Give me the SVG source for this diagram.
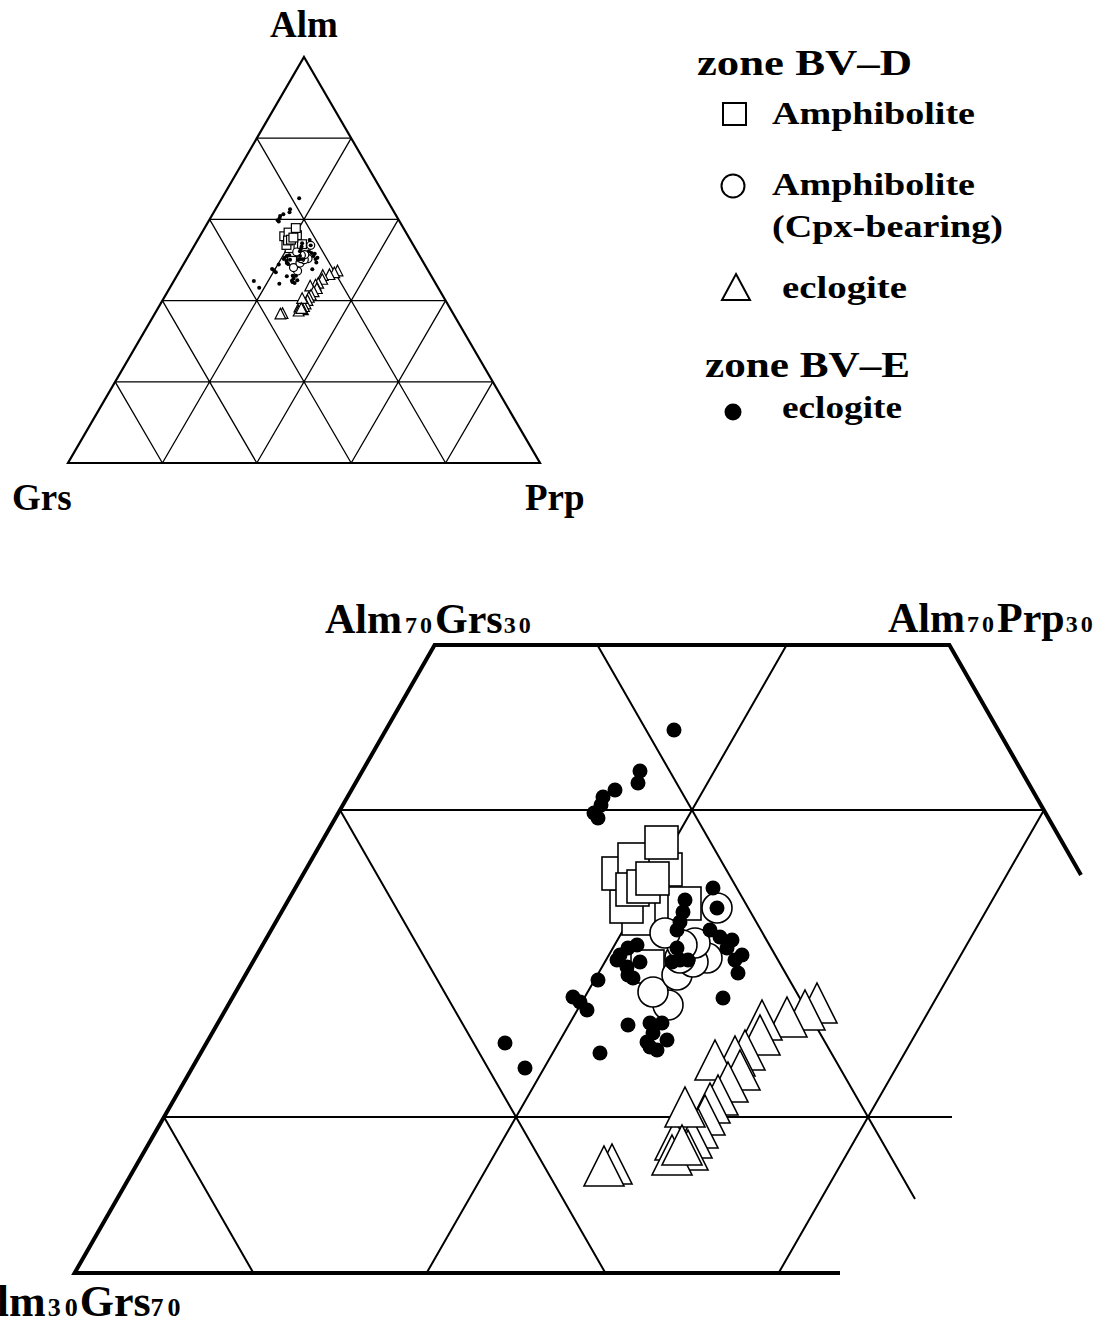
<svg xmlns="http://www.w3.org/2000/svg" xmlns:xlink="http://www.w3.org/1999/xlink" width="1115" height="1324" viewBox="0 0 1115 1324">
<style>
.lbl{font-family:"Liberation Serif","Times New Roman",serif;font-weight:bold;fill:#000}
.sub{font-size:24px;letter-spacing:3px}
.edge{fill:none;stroke:#000;stroke-width:4;stroke-linejoin:miter}
.grid{fill:none;stroke:#000;stroke-width:2}
.tedge{fill:none;stroke:#000;stroke-width:2.2}
.tgrid{fill:none;stroke:#000;stroke-width:1.3}
.sq{fill:#fff;stroke:#000}
.ci{fill:#fff;stroke:#000}
.tr{fill:#fff;stroke:#000}
.dot{fill:#000;stroke:none}
</style>
<defs>
<rect id="S" width="33" height="33"/>
<path id="T" d="M0,0 L20,40 L-20,40 Z"/>
</defs>
<rect width="1115" height="1324" fill="#fff"/>

<!-- small ternary -->
<g id="small-ternary">
<path class="tedge" d="M304,57 L540,463 L68,463 Z"/>
<path class="tgrid" d="M115.2,381.8H492.8M162.4,300.6H445.6M209.6,219.4H398.4M256.8,138.2H351.2
M162.4,463L351.2,138.2M256.8,463L398.4,219.4M351.2,463L445.6,300.6M445.6,463L492.8,381.8
M162.4,463L115.2,381.8M256.8,463L162.4,300.6M351.2,463L209.6,219.4M445.6,463L256.8,138.2"/>
<use xlink:href="#data" href="#data" stroke-width="4.5" transform="translate(118.4,5.2) scale(0.2682,0.2645)"/>
</g>
<text class="lbl" x="304" y="37" font-size="37" text-anchor="middle">Alm</text>
<text class="lbl" x="12" y="510" font-size="37">Grs</text>
<text class="lbl" x="525" y="510" font-size="37">Prp</text>

<!-- legend -->
<g id="legend">
<text class="lbl" x="697" y="75" font-size="36" textLength="215" lengthAdjust="spacingAndGlyphs">zone BV–D</text>
<rect x="723" y="103" width="23" height="22" fill="#fff" stroke="#000" stroke-width="2"/>
<text class="lbl" x="772" y="124" font-size="32" textLength="203" lengthAdjust="spacingAndGlyphs">Amphibolite</text>
<circle cx="733" cy="186" r="11.5" fill="#fff" stroke="#000" stroke-width="2"/>
<text class="lbl" x="772" y="195" font-size="32" textLength="203" lengthAdjust="spacingAndGlyphs">Amphibolite</text>
<text class="lbl" x="772" y="237" font-size="32" textLength="231" lengthAdjust="spacingAndGlyphs">(Cpx-bearing)</text>
<path d="M736,274 L750,300 L722,300 Z" fill="#fff" stroke="#000" stroke-width="2"/>
<text class="lbl" x="782" y="298" font-size="32" textLength="125" lengthAdjust="spacingAndGlyphs">eclogite</text>
<text class="lbl" x="705" y="377" font-size="36" textLength="205" lengthAdjust="spacingAndGlyphs">zone BV–E</text>
<circle cx="733" cy="412" r="8.5" fill="#000"/>
<text class="lbl" x="782" y="418" font-size="32" textLength="120" lengthAdjust="spacingAndGlyphs">eclogite</text>
</g>

<!-- large plot -->
<g id="large-grid">
<path class="grid" d="M340,810H1044M164,1117H952M597.4,645L915,1199M786.6,645L426.6,1273M340,810L605.4,1273M164,1117L253.4,1273M778.6,1273L1044,810"/>
<path class="edge" d="M1081,875L949.4,645H434.6L74.6,1273H840"/>
</g>

<g id="large-data" stroke-width="1.6">
<g id="data">
<g id="amphibolite-squares">
<use href="#S" class="sq" x="631" y="950"/>
<use href="#S" class="sq" x="668" y="887"/>
<use href="#S" class="sq" x="622" y="902"/>
<use href="#S" class="sq" x="610" y="890"/>
<use href="#S" class="sq" x="602" y="857"/>
<use href="#S" class="sq" x="618" y="843"/>
<use href="#S" class="sq" x="616" y="873"/>
<use href="#S" class="sq" x="649" y="853"/>
<use href="#S" class="sq" x="627" y="870"/>
<use href="#S" class="sq" x="636" y="862"/>
<use href="#S" class="sq" x="645" y="826"/>
</g>
<g id="cpx-circles">
<circle class="ci" cx="717" cy="908" r="15"/>
<circle class="ci" cx="668" cy="1005" r="15"/>
<circle class="ci" cx="653" cy="992" r="15"/>
<circle class="ci" cx="677" cy="975" r="15"/>
<circle class="ci" cx="707" cy="958" r="15"/>
<circle class="ci" cx="693" cy="962" r="15"/>
<circle class="ci" cx="680" cy="958" r="15"/>
<circle class="ci" cx="695" cy="943" r="15"/>
<circle class="ci" cx="682" cy="945" r="15"/>
<circle class="ci" cx="665" cy="933" r="15"/>
</g>
<g id="bve-dots">
<circle class="dot" cx="674" cy="730" r="7.5"/>
<circle class="dot" cx="640" cy="771" r="7.5"/>
<circle class="dot" cx="638" cy="783" r="7.5"/>
<circle class="dot" cx="615" cy="790" r="7.5"/>
<circle class="dot" cx="603" cy="797" r="7.5"/>
<circle class="dot" cx="601" cy="805" r="7.5"/>
<circle class="dot" cx="594" cy="813" r="7.5"/>
<circle class="dot" cx="598" cy="818" r="7.5"/>
<circle class="dot" cx="713" cy="888" r="7.5"/>
<circle class="dot" cx="717" cy="908" r="7.5"/>
<circle class="dot" cx="685" cy="900" r="7.5"/>
<circle class="dot" cx="683" cy="912" r="7.5"/>
<circle class="dot" cx="680" cy="922" r="7.5"/>
<circle class="dot" cx="677" cy="930" r="7.5"/>
<circle class="dot" cx="710" cy="930" r="7.5"/>
<circle class="dot" cx="720" cy="937" r="7.5"/>
<circle class="dot" cx="732" cy="940" r="7.5"/>
<circle class="dot" cx="727" cy="948" r="7.5"/>
<circle class="dot" cx="742" cy="955" r="7.5"/>
<circle class="dot" cx="735" cy="960" r="7.5"/>
<circle class="dot" cx="738" cy="973" r="7.5"/>
<circle class="dot" cx="677" cy="948" r="7.5"/>
<circle class="dot" cx="680" cy="960" r="7.5"/>
<circle class="dot" cx="672" cy="962" r="7.5"/>
<circle class="dot" cx="688" cy="960" r="7.5"/>
<circle class="dot" cx="637" cy="945" r="7.5"/>
<circle class="dot" cx="628" cy="948" r="7.5"/>
<circle class="dot" cx="620" cy="955" r="7.5"/>
<circle class="dot" cx="617" cy="960" r="7.5"/>
<circle class="dot" cx="640" cy="962" r="7.5"/>
<circle class="dot" cx="627" cy="967" r="7.5"/>
<circle class="dot" cx="628" cy="975" r="7.5"/>
<circle class="dot" cx="633" cy="978" r="7.5"/>
<circle class="dot" cx="598" cy="980" r="7.5"/>
<circle class="dot" cx="573" cy="997" r="7.5"/>
<circle class="dot" cx="580" cy="1002" r="7.5"/>
<circle class="dot" cx="587" cy="1010" r="7.5"/>
<circle class="dot" cx="723" cy="998" r="7.5"/>
<circle class="dot" cx="628" cy="1025" r="7.5"/>
<circle class="dot" cx="650" cy="1023" r="7.5"/>
<circle class="dot" cx="662" cy="1023" r="7.5"/>
<circle class="dot" cx="653" cy="1033" r="7.5"/>
<circle class="dot" cx="647" cy="1042" r="7.5"/>
<circle class="dot" cx="650" cy="1047" r="7.5"/>
<circle class="dot" cx="667" cy="1040" r="7.5"/>
<circle class="dot" cx="657" cy="1050" r="7.5"/>
<circle class="dot" cx="505" cy="1043" r="7.5"/>
<circle class="dot" cx="525" cy="1068" r="7.5"/>
<circle class="dot" cx="600" cy="1053" r="7.5"/>
</g>
<g id="eclogite-triangles">
<use href="#T" class="tr" x="817" y="983"/>
<use href="#T" class="tr" x="805" y="990"/>
<use href="#T" class="tr" x="787" y="997"/>
<use href="#T" class="tr" x="762" y="1000"/>
<use href="#T" class="tr" x="760" y="1015"/>
<use href="#T" class="tr" x="745" y="1030"/>
<use href="#T" class="tr" x="735" y="1036"/>
<use href="#T" class="tr" x="740" y="1050"/>
<use href="#T" class="tr" x="715" y="1040"/>
<use href="#T" class="tr" x="728" y="1062"/>
<use href="#T" class="tr" x="718" y="1075"/>
<use href="#T" class="tr" x="710" y="1083"/>
<use href="#T" class="tr" x="705" y="1095"/>
<use href="#T" class="tr" x="698" y="1108"/>
<use href="#T" class="tr" x="692" y="1118"/>
<use href="#T" class="tr" x="675" y="1120"/>
<use href="#T" class="tr" x="685" y="1087"/>
<use href="#T" class="tr" x="688" y="1130"/>
<use href="#T" class="tr" x="672" y="1135"/>
<use href="#T" class="tr" x="682" y="1125"/>
<use href="#T" class="tr" x="612" y="1144"/>
<use href="#T" class="tr" x="604" y="1146"/>
</g>
</g>
</g>

<g id="large-labels">
<text class="lbl" y="633" font-size="42"><tspan x="325">Alm</tspan><tspan class="sub" dx="3">70</tspan><tspan>Grs</tspan><tspan class="sub" dx="1">30</tspan></text>
<text class="lbl" y="632" font-size="42"><tspan x="888">Alm</tspan><tspan class="sub" dx="2">70</tspan><tspan>Prp</tspan><tspan class="sub" dx="1">30</tspan></text>
<text class="lbl" y="1316" font-size="44"><tspan x="-35">Alm</tspan><tspan class="sub" dx="2" style="font-size:26px;letter-spacing:4px">30</tspan><tspan dx="-2">Grs</tspan><tspan class="sub" style="font-size:26px;letter-spacing:4px">70</tspan></text>
</g>
</svg>
